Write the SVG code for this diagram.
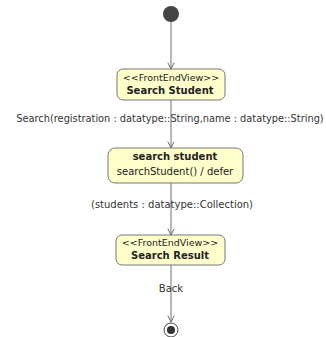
<svg xmlns="http://www.w3.org/2000/svg" width="326" height="337" viewBox="0 0 326 337">
<defs>
<marker id="arr" viewBox="0 0 10 10" refX="9" refY="5" markerWidth="8" markerHeight="8" markerUnits="userSpaceOnUse" orient="auto">
<path d="M1,1 L9,5 L1,9" fill="none" stroke="#666" stroke-width="1.2"/>
</marker>
<style>
.st{fill:#ffffcc;stroke:#777;stroke-width:1}
.t{font-family:"DejaVu Sans",sans-serif;font-size:10px;fill:#222;text-anchor:middle}
.s{font-size:9.5px}
.b{font-weight:bold;font-size:10px}
.e{stroke:#888;stroke-width:1.2;fill:none;marker-end:url(#arr)}
.l{font-family:"DejaVu Sans",sans-serif;font-size:10px;fill:#333;text-anchor:middle}
</style>
</defs>
<rect width="326" height="337" fill="#fff"/>
<g id="connectors">
<line class="e" x1="171" y1="22" x2="171" y2="69"/>
<line class="e" x1="171" y1="100" x2="171" y2="148"/>
<line class="e" x1="171" y1="183" x2="171" y2="235"/>
<line class="e" x1="171" y1="265" x2="171" y2="322"/>
<text class="l" x="170" y="122" style="font-size:9.8px">Search(registration : datatype::String,name : datatype::String)</text>
<text class="l" x="172" y="208">(students : datatype::Collection)</text>
<text class="l" x="171" y="292">Back</text>
</g>
<g id="initial">
<circle cx="171" cy="14" r="8" fill="#444"/>
</g>
<g id="searchStudentView">
<rect class="st" x="117" y="69" width="108" height="31" rx="6"/>
<text class="t s" x="171" y="81">&lt;&lt;FrontEndView&gt;&gt;</text>
<text class="t b" x="170" y="94">Search Student</text>
</g>
<g id="searchStudent">
<rect class="st" x="108" y="148" width="135" height="35" rx="7"/>
<text class="t b" x="175" y="160">search student</text>
<text class="t" x="175" y="175">searchStudent() / defer</text>
</g>
<g id="searchResultView">
<rect class="st" x="116" y="235" width="109" height="30" rx="6"/>
<text class="t s" x="170" y="246">&lt;&lt;FrontEndView&gt;&gt;</text>
<text class="t b" x="170" y="259">Search Result</text>
</g>
<g id="final">
<circle cx="171" cy="330" r="7" fill="#fff" stroke="#444" stroke-width="1"/>
<circle cx="171" cy="330" r="4" fill="#333"/>
</g>
</svg>
